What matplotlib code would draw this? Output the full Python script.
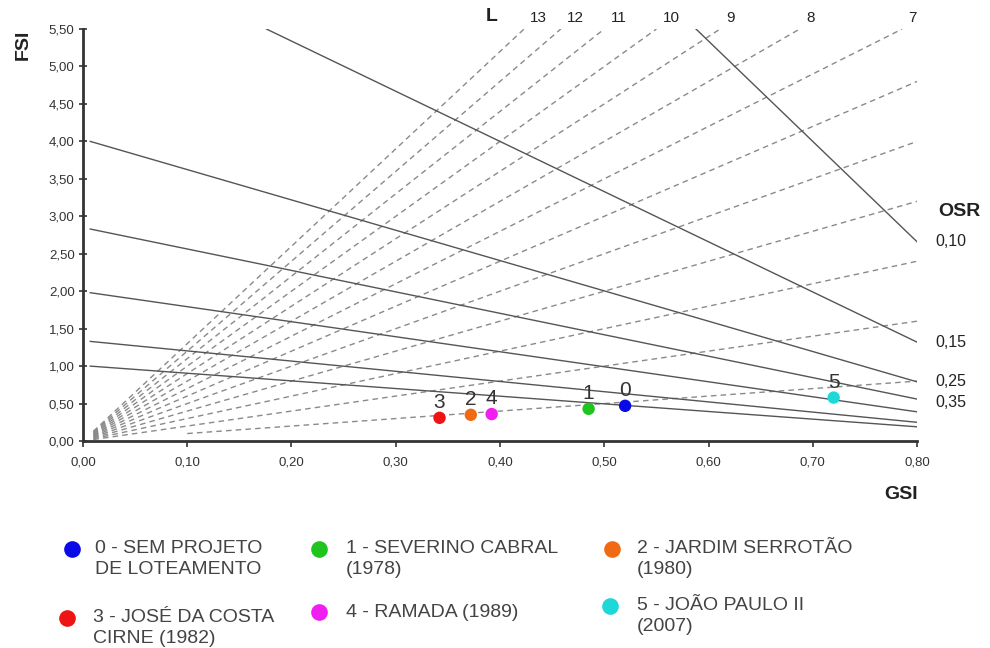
import matplotlib
matplotlib.use('Agg')
import matplotlib.pyplot as plt
from matplotlib.lines import Line2D
from matplotlib.ticker import FuncFormatter
import numpy as np

plt.rcParams['font.family'] = ['Liberation Sans', 'DejaVu Sans']

# layer lines (L): FSI = L * GSI
layers = [1, 2, 3, 4, 5, 6, 7, 8, 9, 10, 11, 12, 13]
layer_start_gsi = [0.10, 0.01, 0.01, 0.01, 0.01, 0.01, 0.01, 0.01, 0.01, 0.01, 0.01, 0.01, 0.01]

# OSR lines: start (GSI, FSI) -> end (GSI, FSI)
osr_x0 = [0.588, 0.176, 0.007, 0.007, 0.007, 0.007, 0.007]
osr_y0 = [5.50, 5.50, 4.00, 2.83, 1.98, 1.33, 1.00]
osr_x1 = [0.80, 0.80, 0.80, 0.80, 0.80, 0.80, 0.80]
osr_y1 = [2.66, 1.32, 0.79, 0.56, 0.39, 0.25, 0.19]
osr_labels = ['0,10', '0,15', '0,25', '0,35']
osr_label_y = [2.66, 1.32, 0.79, 0.51]

# neighbourhoods
ids = ['0', '1', '2', '3', '4', '5']
names = ['0 - SEM PROJETO\nDE LOTEAMENTO', '1 - SEVERINO CABRAL\n(1978)',
         '2 - JARDIM SERROTÃO\n(1980)', '3 - JOSÉ DA COSTA\nCIRNE (1982)',
         '4 - RAMADA (1989)', '5 - JOÃO PAULO II\n(2007)']
gsi = [0.520, 0.485, 0.372, 0.342, 0.392, 0.720]
fsi = [0.47, 0.43, 0.35, 0.31, 0.36, 0.58]
colors = ['#0a0ae6', '#1fc41f', '#f06a14', '#ee1414', '#f01ef0', '#1ed8d8']

W, H = 990, 648
fig = plt.figure(figsize=(9.9, 6.48), dpi=100)
ax = fig.add_axes([0.0838, 0.3194, 0.8425, 0.6358])

ymax = 5.5
xmax = 0.8
for L, x0 in zip(layers, layer_start_gsi):
    x1 = min(xmax, ymax / L)
    ax.plot([x0, x1], [L * x0, L * x1], color='#8a8a8a', lw=1.0,
            dashes=(4, 3), zorder=1)
    if L >= 7:
        ax.text(x1 + 0.006, ymax + 0.05, str(L), fontsize=11, color='#222',
                ha='left', va='bottom')
ax.text(0.386, ymax + 0.05, 'L', fontsize=14, fontweight='bold', color='#222',
        ha='left', va='bottom')

for a, b, c, d in zip(osr_x0, osr_y0, osr_x1, osr_y1):
    ax.plot([a, c], [b, d], color='#555555', lw=1.0, zorder=2)
for lab, y in zip(osr_labels, osr_label_y):
    ax.text(0.818, y, lab, fontsize=11.5, color='#222', ha='left', va='center',
            clip_on=False)
ax.text(0.82, 2.95, 'OSR', fontsize=14, fontweight='bold', color='#222',
        ha='left', va='bottom')

for i, x, y, c in zip(ids, gsi, fsi, colors):
    ax.scatter(x, y, s=80, color=c, zorder=4, edgecolors='none')
    ax.text(x, y + 0.08, i, fontsize=15, color='#333', ha='center',
            va='bottom', zorder=5)

ax.set_xlim(0, xmax)
ax.set_ylim(0, ymax)
ax.set_xticks(np.arange(0, 0.81, 0.1))
ax.set_yticks(np.arange(0, 5.51, 0.5))
ax.xaxis.set_major_formatter(FuncFormatter(lambda v, p: f'{v:.2f}'.replace('.', ',')))
ax.yaxis.set_major_formatter(FuncFormatter(lambda v, p: f'{v:.2f}'.replace('.', ',')))
ax.tick_params(axis='both', labelsize=9.5, colors='#333', length=4, width=1.2)
ax.tick_params(axis='x', pad=7)
ax.tick_params(axis='y', direction='inout', length=6, pad=3)
for s in ['top', 'right']:
    ax.spines[s].set_visible(False)
for s in ['left', 'bottom']:
    ax.spines[s].set_linewidth(2)
    ax.spines[s].set_color('#333')

fig.text(0.015, 0.955, 'FSI', fontsize=14, fontweight='bold', color='#222',
         rotation=90, ha='left', va='top')
fig.text(0.927, 0.237, 'GSI', fontsize=14, fontweight='bold', color='#222',
         ha='right', va='center')

# legend laid out by hand (pixel positions of marker and first text line)
leg_marker_x = [72, 319, 612, 67, 319, 610]
leg_marker_y = [549, 549, 549, 618, 612, 606]
leg_text_x = [95, 346, 637, 93, 346, 637]
leg_text_y = [547, 547, 547, 616, 611, 604]
for k in range(6):
    fig.add_artist(Line2D([leg_marker_x[k] / W], [1 - leg_marker_y[k] / H],
                          transform=fig.transFigure, marker='o', ls='',
                          markersize=12, color=colors[k], markeredgewidth=0))
    fig.text(leg_text_x[k] / W, 1 - (leg_text_y[k] - 7) / H, names[k],
             fontsize=14, color='#444', ha='left', va='top', linespacing=1.3)

fig.savefig('out.png', dpi=100)
